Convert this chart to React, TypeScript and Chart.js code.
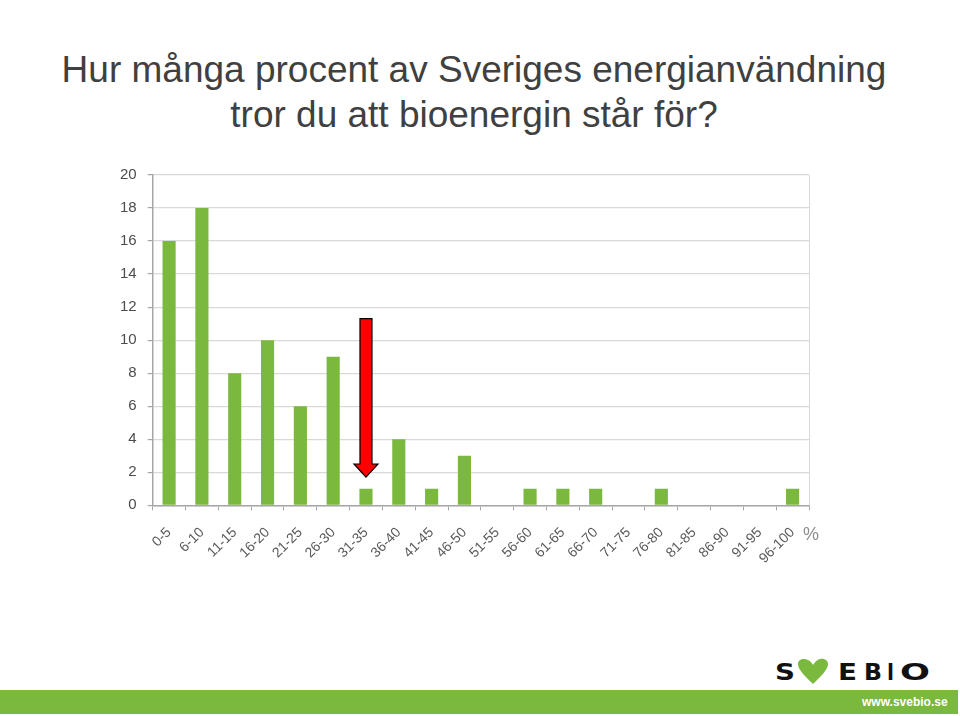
import React, { useEffect, useRef } from "react";
import { Chart, registerables } from "chart.js";

Chart.register(...registerables);

const categories = [
  "0-5", "6-10", "11-15", "16-20", "21-25", "26-30", "31-35", "36-40", "41-45", "46-50",
  "51-55", "56-60", "61-65", "66-70", "71-75", "76-80", "81-85", "86-90", "91-95", "96-100",
];
const counts = [16, 18, 8, 10, 6, 9, 1, 4, 1, 3, 0, 1, 1, 1, 0, 1, 0, 0, 0, 1];
const yMin = 0;
const yMax = 20;
const yStep = 2;

// arrow annotation pointing at the correct answer
const arrowCategoryIndex = 6; // "31-35"
const arrowFromValue = 11.3;
const arrowHeadValue = 2.5;
const arrowToValue = 1.7;

const titleLines = [
  "Hur många procent av Sveriges energianvändning",
  "tror du att bioenergin står för?",
];

const BAR_GREEN = "#7ab83e";
const AXIS_GRAY = "#a6a6a6";
const GRID_GRAY = "#d9d9d9";
const LABEL_GRAY = "#4d4d4d";

const arrowPlugin = {
  id: "arrowPlugin",
  afterDatasetsDraw(chart: any) {
    const { ctx, chartArea, scales } = chart;
    ctx.save();
    ctx.strokeStyle = GRID_GRAY;
    ctx.lineWidth = 1;
    ctx.beginPath();
    ctx.moveTo(Math.round(chartArea.right) + 0.5, chartArea.top);
    ctx.lineTo(Math.round(chartArea.right) + 0.5, chartArea.bottom);
    ctx.stroke();

    const x = scales.x.getPixelForValue(arrowCategoryIndex);
    const yTop = scales.y.getPixelForValue(arrowFromValue);
    const yHead = scales.y.getPixelForValue(arrowHeadValue);
    const yTip = scales.y.getPixelForValue(arrowToValue);
    const shaft = 6;
    const head = 12;
    ctx.beginPath();
    ctx.moveTo(x - shaft, yTop);
    ctx.lineTo(x + shaft, yTop);
    ctx.lineTo(x + shaft, yHead);
    ctx.lineTo(x + head, yHead);
    ctx.lineTo(x, yTip);
    ctx.lineTo(x - head, yHead);
    ctx.lineTo(x - shaft, yHead);
    ctx.closePath();
    ctx.fillStyle = "#ff0000";
    ctx.fill();
    ctx.strokeStyle = "#000000";
    ctx.lineWidth = 1.2;
    ctx.stroke();
    ctx.restore();
  },
};

function BarChart() {
  const ref = useRef<HTMLCanvasElement | null>(null);
  useEffect(() => {
    if (!ref.current) return;
    const chart = new Chart(ref.current, {
      type: "bar",
      data: {
        labels: categories,
        datasets: [
          {
            data: counts,
            backgroundColor: BAR_GREEN,
            borderWidth: 0,
            categoryPercentage: 1,
            barPercentage: 0.4,
          },
        ],
      },
      options: {
        animation: false,
        responsive: false,
        maintainAspectRatio: false,
        layout: { padding: { left: 9, right: 31, top: 3, bottom: 4 } },
        plugins: { legend: { display: false }, tooltip: { enabled: false } },
        scales: {
          x: {
            offset: true,
            grid: {
              display: true,
              offset: true,
              drawOnChartArea: false,
              drawTicks: true,
              tickLength: 5,
              color: AXIS_GRAY,
            },
            border: { color: AXIS_GRAY, width: 1.5 },
            ticks: {
              autoSkip: false,
              minRotation: 45,
              maxRotation: 45,
              padding: 14,
              color: "#595959",
              font: { family: "'Liberation Sans', Arial, sans-serif", size: 14 },
            },
          },
          y: {
            min: yMin,
            max: yMax,
            ticks: {
              stepSize: yStep,
              padding: 11,
              color: LABEL_GRAY,
              font: { family: "'Liberation Sans', Arial, sans-serif", size: 15 },
            },
            grid: {
              color: GRID_GRAY,
              tickColor: AXIS_GRAY,
              tickLength: 5,
              lineWidth: 1.2,
            },
            border: { color: AXIS_GRAY, width: 1.5 },
          },
        },
      },
      plugins: [arrowPlugin],
    });
    return () => chart.destroy();
  }, []);
  return <canvas ref={ref} width={740} height={430} style={{ display: "block" }} />;
}

function Logo() {
  const font = "'DejaVu Sans', sans-serif";
  const letter = (ch: string, x: number, w: number) => (
    <text key={ch} x={x} y={30} fontFamily={font} fontWeight="bold" fontSize={23}
      fill="#111" textLength={w} lengthAdjust="spacingAndGlyphs">{ch}</text>
  );
  return (
    <svg width={200} height={40} style={{ position: "absolute", left: 760, top: 650 }}>
      {letter("S", 15, 20)}
      <path
        d="M53 34 C46 27, 38 20, 38 14 C38 9, 44 8, 48 10 C51 11, 53 15, 53 15 C53 15, 56 10, 60 9 C65 8, 68 11, 68 14 C68 20, 60 27, 53 34 Z"
        fill="#7ab83e"
      />
      {letter("E", 78, 19)}
      {letter("B", 104, 18)}
      {letter("I", 127, 7)}
      {letter("O", 140, 30)}
    </svg>
  );
}

export default function App() {
  return (
    <div style={{ position: "absolute", left: 0, top: 0, width: 960, height: 716, background: "#fff", overflow: "hidden" }}>
      <div
        style={{
          position: "absolute",
          left: 0,
          top: 47,
          width: 948,
          textAlign: "center",
          fontFamily: "'Liberation Sans', Arial, sans-serif",
          fontSize: 37,
          lineHeight: "45px",
          color: "#404040",
        }}
      >
        {titleLines.map((l, i) => (
          <div key={i}>{l}</div>
        ))}
      </div>
      <div style={{ position: "absolute", left: 100, top: 155 }}>
        <BarChart />
      </div>
      <div
        style={{
          position: "absolute",
          left: 803,
          top: 524,
          fontFamily: "'Liberation Sans', Arial, sans-serif",
          fontSize: 18,
          color: "#8c8c8c",
        }}
      >
        %
      </div>
      <Logo />
      <div style={{ position: "absolute", left: 0, top: 690, width: 958, height: 24, background: "#7ab83e" }}>
        <div
          style={{
            position: "absolute",
            left: 862,
            top: 5,
            fontFamily: "'Liberation Sans Narrow', 'Liberation Sans', Arial, sans-serif",
            fontWeight: "bold",
            fontSize: 12,
            lineHeight: "14px",
            color: "#fff",
            whiteSpace: "nowrap",
          }}
        >
          www.svebio.se
        </div>
      </div>
    </div>
  );
}
